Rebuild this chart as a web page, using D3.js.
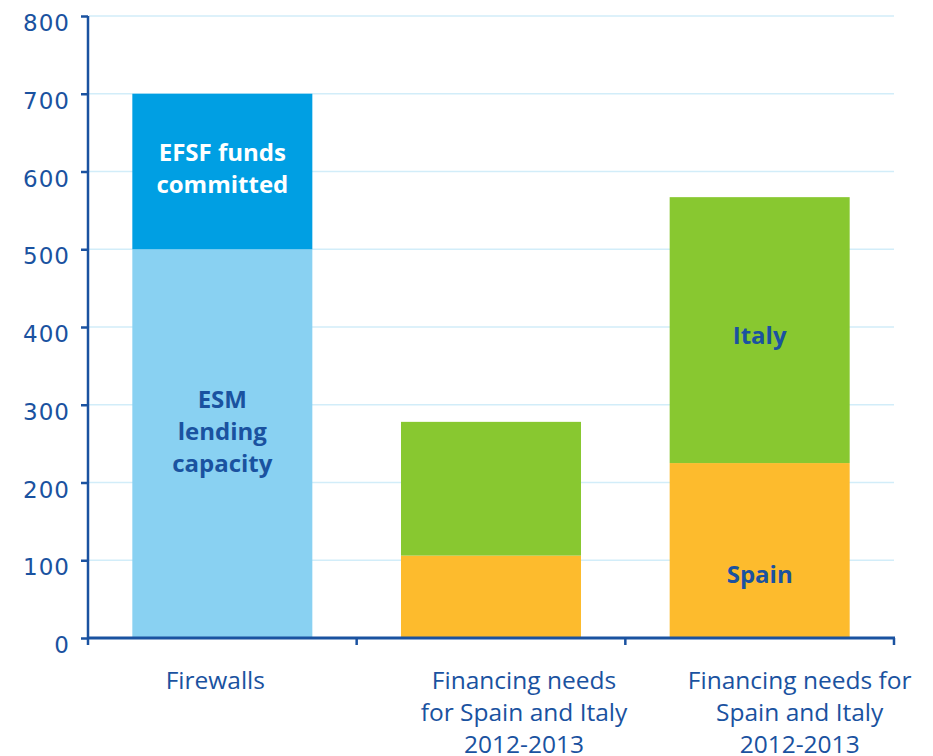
<!DOCTYPE html>
<html><head><meta charset="utf-8">
<script src="https://cdn.jsdelivr.net/npm/d3@7"></script>
<style>html,body{margin:0;padding:0;background:#fff;}svg{display:block;}</style>
</head><body><svg id="c" width="933" height="756"></svg>
<script>
const categories = ["Firewalls", "Financing needs for Spain and Italy 2012-2013 (a)", "Financing needs for Spain and Italy 2012-2013 (b)"];
const categoryLabels = [["Firewalls"], ["Financing needs", "for Spain and Italy", "2012-2013"], ["Financing needs for", "Spain and Italy", "2012-2013"]];
const seriesNames = ["ESM lending capacity", "EFSF funds committed", "Spain", "Italy"];
const esmValues   = [500, 0, 0];
const efsfValues  = [200, 0, 0];
const spainValues = [0, 106, 225];
const italyValues = [0, 172, 342];
const yTicks = [0, 100, 200, 300, 400, 500, 600, 700, 800];

const colors = {"ESM lending capacity":"#89d1f2","EFSF funds committed":"#009fe3","Spain":"#fdbb2d","Italy":"#88c830"};
const axisColor = "#1a52a0";
const font = "'Open Sans', sans-serif";

const svg = d3.select("#c");
const margin = {left: 88, right: 39, top: 16, bottom: 118};
const W = 933, H = 756;
const x = d3.scaleBand().domain(categories).range([margin.left, W - margin.right]).paddingInner(0.33).paddingOuter(0.165);
const y = d3.scaleLinear().domain([0, 800]).range([H - margin.bottom, margin.top]);

// gridlines
svg.append("g").selectAll("line").data(yTicks.filter(d => d > 0)).join("line")
  .attr("x1", margin.left + 1).attr("x2", W - margin.right)
  .attr("y1", d => y(d)).attr("y2", d => y(d))
  .attr("stroke", "#d2edf9").attr("stroke-width", 1.5);

// stacked data
const rows = categories.map((c, i) => ({cat: c, "ESM lending capacity": esmValues[i], "EFSF funds committed": efsfValues[i], "Spain": spainValues[i], "Italy": italyValues[i]}));
const stack = d3.stack().keys(seriesNames)(rows);
svg.append("g").selectAll("g").data(stack).join("g").attr("fill", d => colors[d.key])
  .selectAll("rect").data(d => d.filter(p => p[1] > p[0])).join("rect")
  .attr("x", d => x(d.data.cat)).attr("width", x.bandwidth())
  .attr("y", d => y(d[1])).attr("height", d => y(d[0]) - y(d[1]));

// y axis
const yAxis = d3.axisLeft(y).tickValues(yTicks).tickSize(7).tickPadding(11);
const gy = svg.append("g").attr("transform", `translate(${margin.left},0)`).call(yAxis);
gy.select(".domain").attr("stroke", axisColor).attr("stroke-width", 2.5).attr("d", `M0,${y(0)}V${y(800)}`);
gy.selectAll(".tick line").attr("stroke", axisColor).attr("stroke-width", 2.5);
gy.selectAll(".tick text").attr("fill", axisColor).attr("font-family", "'DejaVu Sans', sans-serif")
  .attr("font-size", 23).attr("letter-spacing", 1).attr("dy", "0.63em");

// x axis
const gx = svg.append("g");
gx.append("line").attr("x1", margin.left - 1).attr("x2", W - margin.right + 1).attr("y1", y(0)).attr("y2", y(0))
  .attr("stroke", axisColor).attr("stroke-width", 3);
const bounds = [x.range()[0], ...categories.slice(1).map(c => x(c) - x.step() * x.paddingInner() / 2), x.range()[1]];
gx.selectAll("line.tk").data(bounds).join("line").attr("class", "tk")
  .attr("x1", d => d).attr("x2", d => d).attr("y1", y(0)).attr("y2", y(0) + 7)
  .attr("stroke", axisColor).attr("stroke-width", 2.5);
const labelDx = [-7, 33, 40];
categories.forEach((c, i) => {
  const t = gx.append("text").attr("text-anchor", "middle").attr("fill", axisColor)
    .attr("font-family", font).attr("font-size", 24.5)
    .attr("x", x(c) + x.bandwidth() / 2 + labelDx[i]).attr("y", y(0) + 51);
  categoryLabels[i].forEach((l, j) => t.append("tspan").attr("x", x(c) + x.bandwidth() / 2 + labelDx[i]).attr("dy", j ? 32 : 0).text(l));
});

// in-bar labels
const inLabels = [
  {cat: 0, series: "EFSF funds committed", lines: ["EFSF funds", "committed"], color: "#ffffff", dy: -3},
  {cat: 0, series: "ESM lending capacity", lines: ["ESM", "lending", "capacity"], color: axisColor, dy: -12},
  {cat: 2, series: "Italy", lines: ["Italy"], color: axisColor, dy: 5},
  {cat: 2, series: "Spain", lines: ["Spain"], color: axisColor, dy: 24}
];
inLabels.forEach(l => {
  const s = stack.find(d => d.key === l.series)[l.cat];
  const cx = x(categories[l.cat]) + x.bandwidth() / 2;
  const cy = (y(s[0]) + y(s[1])) / 2 + l.dy;
  const n = l.lines.length;
  const t = svg.append("text").attr("text-anchor", "middle").attr("fill", l.color)
    .attr("font-family", font).attr("font-weight", "bold").attr("font-size", 24);
  l.lines.forEach((ln, j) => t.append("tspan").attr("x", cx).attr("y", cy + (j - (n - 1) / 2) * 32).attr("dy", "0.36em").text(ln));
});
</script></body></html>
